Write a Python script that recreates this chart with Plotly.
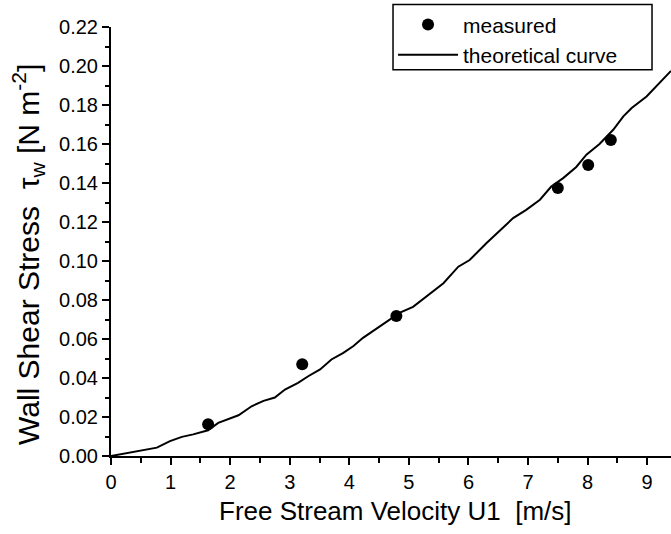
import plotly.graph_objects as go

# Measured wall shear stress at several free-stream velocities
u_measured = [1.63, 3.21, 4.79, 7.50, 8.01, 8.39]
tau_measured = [0.0163, 0.0470, 0.0718, 0.1374, 0.1492, 0.1620]

# Theoretical wall shear stress curve
u_theory = [0.00, 0.38, 0.77, 0.99, 1.19, 1.38, 1.63, 1.80, 2.00, 2.14, 2.36,
            2.56, 2.75, 2.92, 3.14, 3.31, 3.51, 3.70, 3.90, 4.07, 4.23, 4.46,
            4.68, 4.85, 5.07, 5.35, 5.58, 5.83, 6.02, 6.30, 6.50, 6.75, 6.97,
            7.20, 7.39, 7.59, 7.81, 7.98, 8.20, 8.43, 8.60, 8.74, 8.99, 9.27,
            9.40]
tau_theory = [0.0000, 0.0021, 0.0043, 0.0076, 0.0098, 0.0111, 0.0132, 0.0170,
              0.0192, 0.0209, 0.0255, 0.0283, 0.0300, 0.0341, 0.0375, 0.0409,
              0.0444, 0.0495, 0.0529, 0.0564, 0.0606, 0.0655, 0.0701, 0.0735,
              0.0765, 0.0834, 0.0886, 0.0971, 0.1005, 0.1091, 0.1150, 0.1220,
              0.1262, 0.1314, 0.1382, 0.1425, 0.1482, 0.1545, 0.1600, 0.1673,
              0.1742, 0.1785, 0.1844, 0.1930, 0.1975]

FONT = "Liberation Sans, Arial, sans-serif"

fig = go.Figure()
fig.add_trace(go.Scatter(
    x=u_measured, y=tau_measured, mode="markers", name="measured",
    marker=dict(color="black", size=12),
))
fig.add_trace(go.Scatter(
    x=u_theory, y=tau_theory, mode="lines", name="theoretical curve",
    line=dict(color="black", width=2),
))

axis_common = dict(
    showgrid=False, zeroline=False, showline=True, linecolor="black",
    linewidth=2, ticks="outside", tickwidth=2, ticklen=7, tickcolor="black",
    tickfont=dict(family=FONT, size=20, color="black"), mirror=False,
)

fig.update_xaxes(
    range=[0, 9.4], tickmode="array", tickvals=list(range(0, 10)),
    minor=dict(dtick=0.5, tick0=0, ticks="outside", ticklen=5,
               tickwidth=2, tickcolor="black"),
    **axis_common,
)
fig.update_yaxes(
    range=[0, 0.22], dtick=0.02, tick0=0, tickformat=".2f",
    minor=dict(dtick=0.01, tick0=0, ticks="outside", ticklen=4,
               tickwidth=2, tickcolor="black"),
    **axis_common,
)

fig.add_annotation(
    text="Free Stream Velocity U1\u00a0\u00a0[m/s]",
    xref="paper", yref="paper", x=0.508, y=0, yshift=-55,
    xanchor="center", yanchor="middle", showarrow=False,
    font=dict(family=FONT, size=26, color="black"),
)
fig.add_annotation(
    text=("Wall Shear Stress\u00a0\u00a0\u03c4<sub>w</sub>\u00a0"
          "[N m<sup>-2</sup>]"),
    xref="paper", yref="paper", x=0, xshift=-83, y=0.4686,
    xanchor="center", yanchor="middle", textangle=-90, showarrow=False,
    font=dict(family=FONT, size=30, color="black"),
)

# Frame around the legend entries
fig.add_shape(
    type="rect", xref="paper", yref="paper",
    x0=0.5036, x1=0.9661, y0=0.9006, y1=1.0523,
    line=dict(color="black", width=1.5), fillcolor="rgba(0,0,0,0)",
    layer="above",
)

fig.update_layout(
    width=671, height=534,
    margin=dict(l=111, r=0, t=27, b=78),
    paper_bgcolor="white", plot_bgcolor="white",
    showlegend=True,
    legend=dict(
        x=0.5036, y=1.053, xanchor="left", yanchor="top",
        borderwidth=0, bgcolor="rgba(0,0,0,0)",
        font=dict(family=FONT, size=21, color="black"),
        itemwidth=60, tracegroupgap=0,
    ),
)

fig.write_html("out.html")
